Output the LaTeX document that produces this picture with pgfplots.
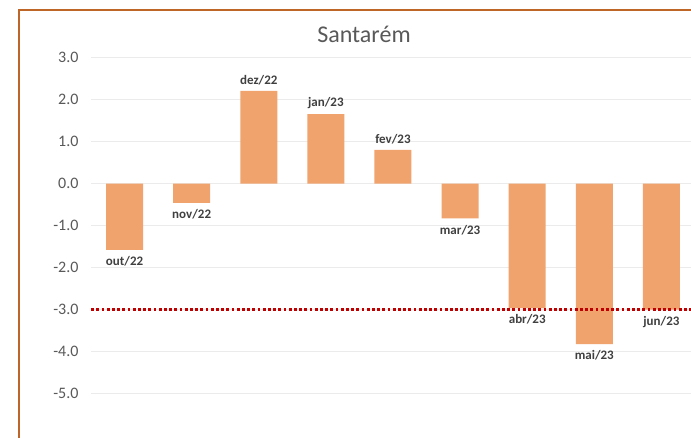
\documentclass[border=0pt]{standalone}
\usepackage{fontspec}
\setmainfont{Carlito}
\usepackage{pgfplots}
\usepackage{pgfplotstable}
\pgfplotsset{compat=1.18}
\definecolor{barc}{HTML}{F0A36C}
\definecolor{gridc}{HTML}{EBEBEB}
\definecolor{tickc}{HTML}{595959}
\definecolor{labc}{HTML}{404040}
\definecolor{brd}{HTML}{BE6628}
\definecolor{redl}{HTML}{C00000}
\pgfplotstableread{
x y lab
2 2.20 dez/22
3 1.65 jan/23
4 0.80 fev/23
}\postab
\pgfplotstableread{
x y lab
0 -1.58 out/22
1 -0.46 nov/22
5 -0.83 mar/23
6 -2.96 abr/23
7 -3.82 mai/23
8 -3.00 jun/23
}\negtab
\begin{document}
\begin{tikzpicture}[x=1pt,y=1pt]
\useasboundingbox (0,0) rectangle (691,438);
\clip (0,0) rectangle (691,438);
\fill[white] (0,0) rectangle (691,438);
\begin{axis}[at={(91pt,2.1pt)}, anchor=south west, scale only axis,
  width=604pt, height=378.6pt,
  xmin=-0.5, xmax=8.5, ymin=-6, ymax=3,
  axis line style={draw=none},
  xtick=\empty, ytick={-5,-4,...,3}, major tick length=0pt,
  ymajorgrids, grid style={color=gridc, line width=0.9pt},
  yticklabel style={font=\fontsize{16}{18}\selectfont, text=tickc, xshift=-9pt,
    /pgf/number format/.cd, fixed, fixed zerofill, precision=1, assume math mode=true},
  ybar, bar width=37pt, bar shift=0pt,
  point meta=explicit symbolic,
  every node near coord/.append style={font=\bfseries\fontsize{13}{15}\selectfont, text=labc},
]
\addplot[fill=barc, draw=none, nodes near coords, every node near coord/.append style={anchor=south, yshift=2pt}] table[x=x,y=y,meta=lab]{\postab};
\addplot[fill=barc, draw=none, nodes near coords, every node near coord/.append style={anchor=north, yshift=-3pt}] table[x=x,y=y,meta=lab]{\negtab};
\draw[redl, line width=2.75pt, dash pattern=on 2.75pt off 2.45pt] (axis cs:-0.575,-3) -- (axis cs:8.5,-3);
\end{axis}
\node[anchor=base, font=\fontsize{24}{28}\selectfont, text=tickc] at (364,395) {Santarém};
\draw[brd, line width=2.5pt] (19,-5) -- (19,428) -- (700,428);
\end{tikzpicture}
\end{document}
